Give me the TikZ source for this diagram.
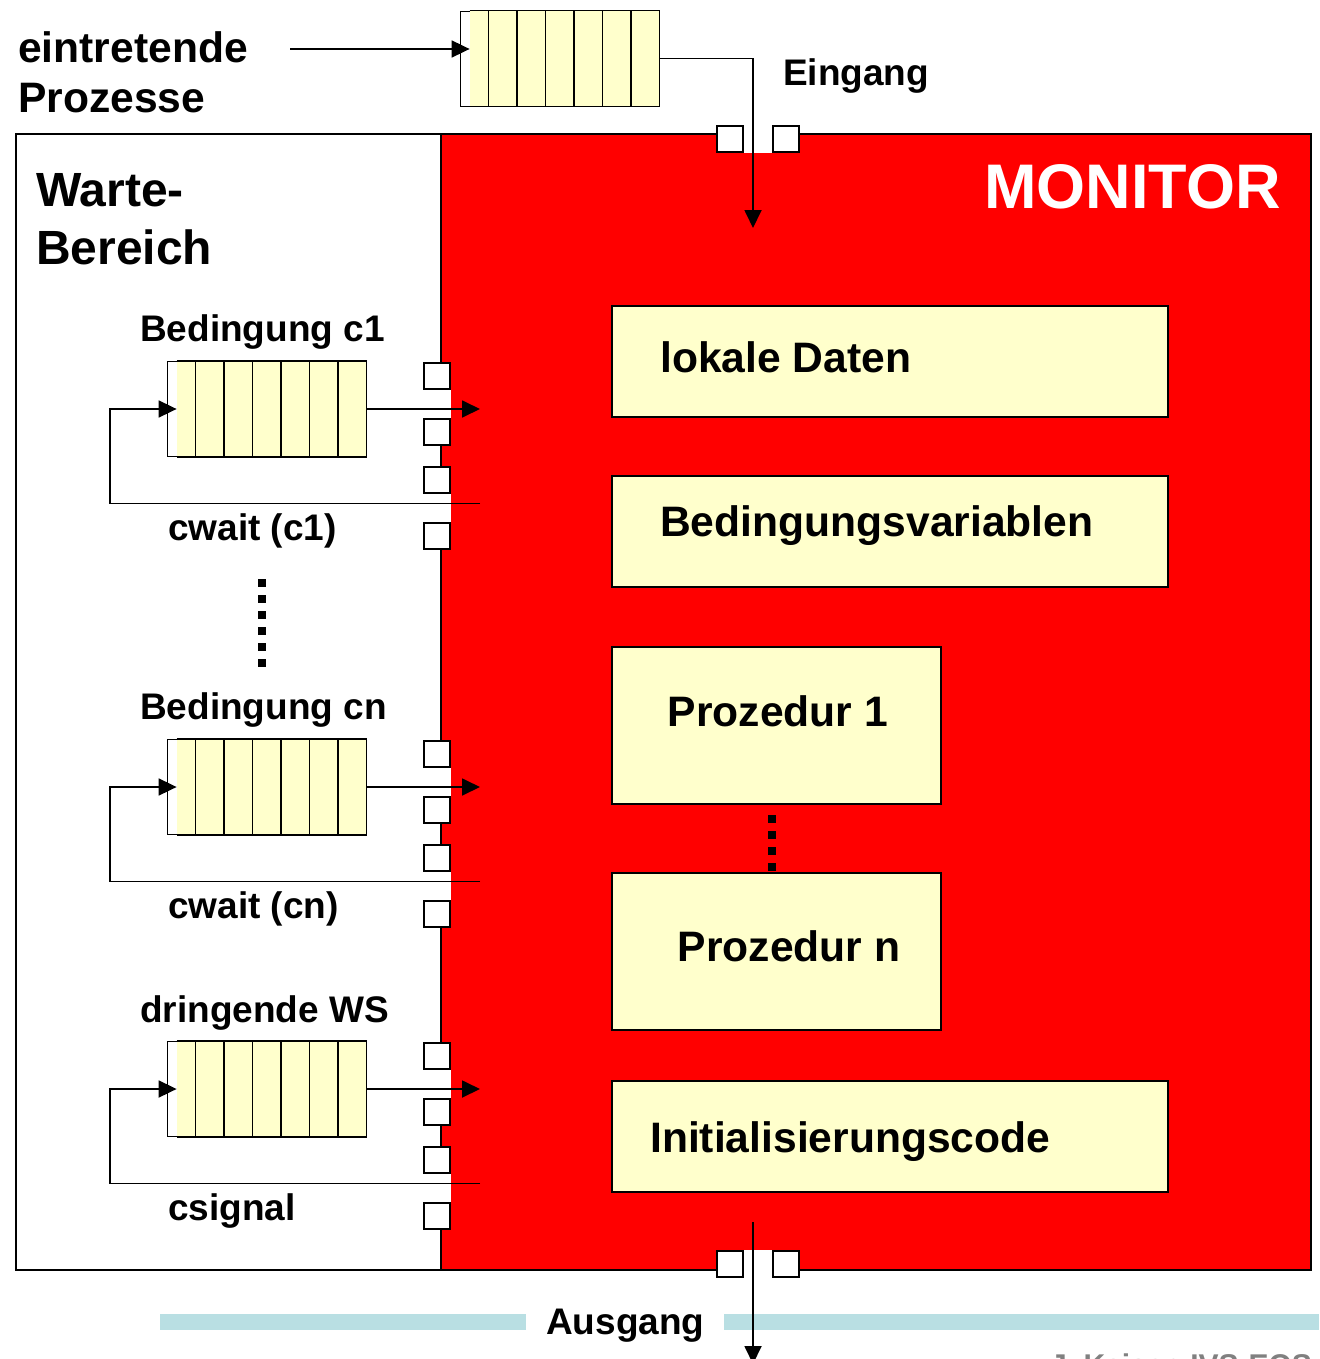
\documentclass[tikz,border=0pt]{standalone}
\usepackage{fontspec}
\setmainfont{Liberation Sans}
\usetikzlibrary{arrows.meta}
\definecolor{monred}{HTML}{FF0000}
\definecolor{boxyellow}{HTML}{FFFFCC}
\definecolor{barblue}{HTML}{B9DFE3}

\begin{document}
\begin{tikzpicture}[x=1pt, y=-1pt,
    box/.style={rectangle, draw, line width=2pt, fill=boxyellow, inner sep=0pt},
    queue/.style={rectangle, draw, line width=0.8pt, fill=white, minimum width=199pt, minimum height=95pt, inner sep=0pt},
    door/.style={rectangle, draw, line width=2pt, fill=white, minimum size=26pt, inner sep=0pt},
    dotsq/.style={rectangle, fill=black, minimum size=8pt, inner sep=0pt},
    arrow/.style={-{Triangle[length=18pt,width=17pt]}, line width=1.8pt},
    lbl/.style={anchor=base west, inner sep=0pt, font=\bfseries\fontsize{37}{44}\selectfont},
    boxlbl/.style={lbl, font=\bfseries\fontsize{42.6}{50}\selectfont}
]
    \useasboundingbox (0,0) rectangle (1319,1359);

    % monitor and waiting area
    \draw[line width=2pt, fill=white] (16,134) rectangle (441,1270);
    \fill[monred] (441,134) rectangle (1311,1270);
    \draw[line width=2pt] (16,134) rectangle (1311,1270);
    \draw[line width=2pt] (441,134) -- (441,1270);

    % entry and exit doors
    \fill[white] (744,132) rectangle (772,153);
    \fill[white] (744,1250) rectangle (772,1272);
    \node[door] (din1) at (730,139) {};
    \node[door] (din2) at (786,139) {};
    \node[door] (dout1) at (730,1264) {};
    \node[door] (dout2) at (786,1264) {};

    % entry queue
    \node[queue] (q0) at (559.5,58.5) {};
    \fill[boxyellow] ([xshift=10pt]q0.north west) rectangle (q0.south east);
    \draw[line width=1.5pt] ([xshift=10pt]q0.north west) -- (q0.north east) -- (q0.south east) -- ([xshift=10pt]q0.south west);
    \foreach \k in {0,...,5}
        \draw[line width=1.5pt] ([xshift=29pt+\k*28.5pt]q0.north west) -- ([xshift=29pt+\k*28.5pt]q0.south west);
    \coordinate (q0y) at ([xshift=10pt]q0.west);

    % waiting queues with their doors
    \foreach \q/\cy in {c1/409, cn/787, ws/1089} {
        \fill[white] (439,\cy-19) rectangle (451,\cy+9);
        \fill[white] (439,\cy+85) rectangle (451,\cy+113);
        \node[door] (d\q-1) at (437,\cy-33) {};
        \node[door] (d\q-2) at (437,\cy+23) {};
        \node[door] (d\q-3) at (437,\cy+71) {};
        \node[door] (d\q-4) at (437,\cy+127) {};

        \node[queue] (q\q) at (266.5,\cy) {};
        \fill[boxyellow] ([xshift=10pt]q\q.north west) rectangle (q\q.south east);
        \draw[line width=1.5pt] ([xshift=10pt]q\q.north west) -- (q\q.north east) -- (q\q.south east) -- ([xshift=10pt]q\q.south west);
        \foreach \k in {0,...,5}
            \draw[line width=1.5pt] ([xshift=29pt+\k*28.5pt]q\q.north west) -- ([xshift=29pt+\k*28.5pt]q\q.south west);

        \coordinate (q\q y) at ([xshift=10pt]q\q.west);
        \coordinate (\q in) at (480,\cy);
        \coordinate (\q back) at (480,\cy+94.5);
        \draw[arrow] (q\q.east) -- (\q in);
        \draw[arrow] (\q back) -| ([xshift=-57pt]q\q.west) -- (q\q y);
    }

    % entry and exit arrows
    \coordinate (ein0) at (290,49);
    \coordinate (ein1) at (753,228);
    \draw[arrow] (ein0) -- (ein0 -| q0y);
    \draw[arrow] (q0.east) -| (ein1);
    \coordinate (aus0) at (753,1222);
    \coordinate (aus1) at (753,1364);

    % boxes in the monitor
    \node[box, minimum width=556pt, minimum height=111pt] (daten) at (890,361.5) {};
    \node[box, minimum width=556pt, minimum height=111pt] (bedvar) at (890,531.5) {};
    \node[box, minimum width=329pt, minimum height=157pt] (proz1) at (776.5,725.5) {};
    \node[box, minimum width=329pt, minimum height=157pt] (prozn) at (776.5,951.5) {};
    \node[box, minimum width=556pt, minimum height=111pt] (init) at (890,1136.5) {};

    \node[boxlbl] (tdaten) at (660,372) {lokale Daten};
    \node[boxlbl] (tbedvar) at (660,536) {Bedingungsvariablen};
    \node[boxlbl, anchor=base] (tproz1) at (778,726) {Prozedur 1};
    \node[boxlbl, anchor=base] (tprozn) at (789,961) {Prozedur n};
    \node[boxlbl] (tinit) at (650,1152) {Initialisierungscode};

    % dots
    \foreach \k in {0,...,5}
        \node[dotsq] (dw\k) at (262,583+16*\k) {};
    \foreach \k in {0,...,3}
        \node[dotsq] (dp\k) at (772,819+16*\k) {};

    % bottom bar
    \fill[barblue] (160,1314) rectangle (526,1330);
    \fill[barblue] (724,1314) rectangle (1319,1330);
    \draw[arrow] (aus0) -- (aus1);

    % labels
    \node[boxlbl] (tein1) at (18,63) {eintretende};
    \node[boxlbl] (tein2) at (18,113) {Prozesse};
    \node[lbl] (teingang) at (783,86) {Eingang};
    \node[lbl] (tausgang) at (546,1334) {Ausgang};
    \node[lbl, font=\bfseries\fontsize{48}{56}\selectfont] (twarte) at (36,207) {Warte-};
    \node[lbl, font=\bfseries\fontsize{48}{56}\selectfont] (tbereich) at (36,264) {Bereich};
    \node[anchor=base east, inner sep=0pt, text=white, font=\bfseries\fontsize{63}{70}\selectfont] (tmon) at (1281,208) {MONITOR};

    \node[lbl] (tbc1) at (140,341) {Bedingung c1};
    \node[lbl] (twc1) at (168,540) {cwait (c1)};
    \node[lbl] (tbcn) at (140,719) {Bedingung cn};
    \node[lbl] (twcn) at (168,918) {cwait (cn)};
    \node[lbl] (tws) at (140,1022) {dringende WS};
    \node[lbl] (tsig) at (168,1220) {csignal};

    \node[anchor=base west, inner sep=0pt, text=gray, font=\bfseries\fontsize{30}{36}\selectfont] (autor) at (1050,1375) {J. Kaiser, IVS-EOS};
\end{tikzpicture}
\end{document}
